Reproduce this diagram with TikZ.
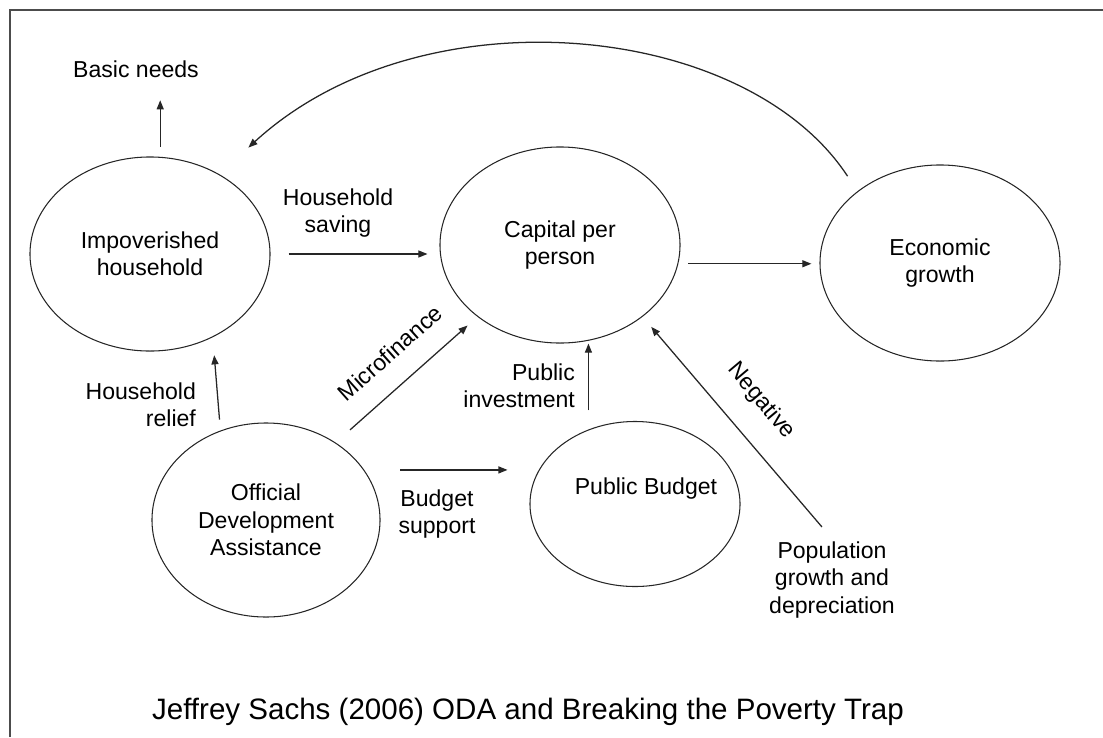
\documentclass[tikz,border=0pt]{standalone}
\usepackage{fontspec}
\setmainfont{Liberation Sans}
\usepackage{tikz}
\usetikzlibrary{positioning, arrows.meta, calc, shapes.geometric}

\begin{document}
\begin{tikzpicture}[
    x=0.025cm, y=-0.025cm,
    bubble/.style={draw=black!85, ellipse, line width=0.75pt, inner sep=0pt,
                   align=center, font=\fontsize{16.4}{19.5}\selectfont},
    lbl/.style={align=center, inner sep=2pt, font=\fontsize{16.4}{19.5}\selectfont},
    arrow/.style={-{Triangle[length=6.5pt, width=5pt]}, black!85, line width=0.9pt},
    frame/.style={black!70, line width=1pt}
]
\useasboundingbox (0,0) rectangle (1103,737);

% Frame (top and left edges)
\draw[frame] (10,737) -- (10,10) -- (1103,10);

% Circles
\node[bubble, minimum width=6cm, minimum height=4.85cm] (hh) at (150,254) {Impoverished\\household};
\node[bubble, minimum width=6cm, minimum height=4.9cm] (cap) at (560,245) {Capital per\\person};
\node[bubble, minimum width=6cm, minimum height=4.9cm] (eg) at (940,263) {Economic\\growth};
\node[bubble, minimum width=5.7cm, minimum height=4.85cm] (oda) at (266,520) {Official\\Development\\Assistance};
\node[bubble, minimum width=5.25cm, minimum height=4.125cm,
      label={[lbl, xshift=7.8pt, yshift=10.7pt]center:Public Budget}] (pb) at (635,504) {};

% Labels
\node[lbl] (basic) at (136,69) {Basic needs};
\node[lbl] (saving) at (338,213) {Household\\saving};
\node[lbl, align=right, anchor=east] (relief) at (199,405) {Household\\relief};
\node[lbl, rotate=41.7] (micro) at (390,353) {Microfinance};
\node[lbl, align=right, anchor=east] (pubinv) at (578,386) {Public\\investment};
\node[lbl] (budget) at (437,514) {Budget\\support};
\node[lbl, rotate=-50] (neg) at (761,401) {Negative};
\node[lbl] (pop) at (832,580) {Population\\growth and\\depreciation};

% Title
\node[inner sep=0pt, font=\fontsize{21}{25}\selectfont] (title) at (528,712)
    {Jeffrey Sachs (2006) ODA and Breaking the Poverty Trap};

% Arrows around the household
\draw[arrow, shorten <=7pt, shorten >=14pt] (hh.84) -- (hh.84 |- basic.south);
\draw[arrow, shorten <=12.8pt, shorten >=8.5pt] (hh.east) -- (hh.east -| cap.west);
\draw[arrow, shorten <=7.8pt, shorten >=12.8pt] (oda.117) -- (hh.-53);

% Arrows into capital per person
\draw[arrow, shorten <=13.6pt, shorten >=9.3pt] (oda.48) -- (cap.-139);
\draw[arrow, shorten <=13.5pt] (pb.122) -- (pb.122 |- cap.south);
\draw[arrow, shorten <=11pt, shorten >=9.4pt] (pop.north) -- (cap.-41);

% Budget support
\draw[arrow, shorten <=25.6pt, shorten >=15.6pt] (oda.27) -- (oda.27 -| pb.west);

% Capital to growth, and the feedback loop
\draw[arrow, shorten <=7.1pt, shorten >=5.7pt] (cap.-9.7) -- (cap.-9.7 -| eg.west);
\draw[arrow, shorten <=12.8pt, shorten >=28pt] (eg.139) .. controls (745,20) and (420,-10) .. (hh.49);

\end{tikzpicture}
\end{document}
